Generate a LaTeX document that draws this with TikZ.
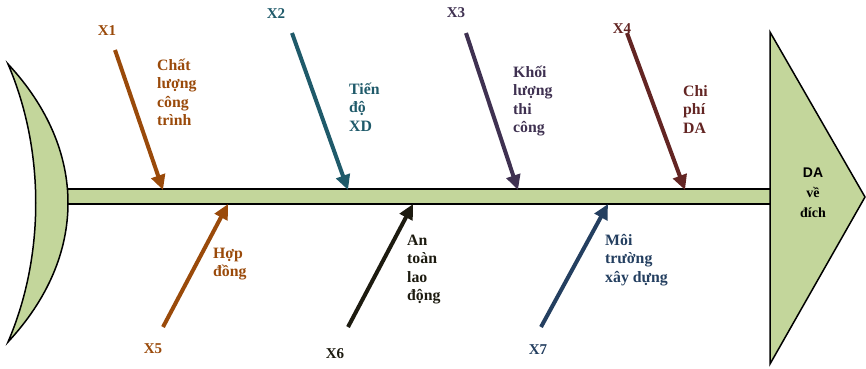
\documentclass[tikz,border=0pt]{standalone}
\usepackage{fontspec}
\setmainfont{Liberation Serif}
\newfontfamily\sansf{Liberation Sans}
\usetikzlibrary{arrows.meta}
\definecolor{fishgreen}{HTML}{C3D69B}
\definecolor{cbrown}{HTML}{9A4A0A}
\definecolor{cteal}{HTML}{1F5A6A}
\definecolor{cpurple}{HTML}{3F3151}
\definecolor{cdred}{HTML}{632523}
\definecolor{cblack}{HTML}{1D1B10}
\definecolor{cnavy}{HTML}{243F60}
\begin{document}
\begin{tikzpicture}[x=1pt,y=-1pt,
  lbl/.style={font=\bfseries\fontsize{15.8}{18.4}\selectfont, inner sep=0pt, align=left, anchor=north west},
  xl/.style={font=\bfseries\fontsize{15}{18}\selectfont, inner sep=0pt, anchor=base},
  bone/.style={line width=4pt, -{Triangle[length=15pt,width=14pt]}},
  body/.style={fill=fishgreen, draw=black, line width=1.5pt, line join=miter}]
\useasboundingbox (0,0) rectangle (866,368);

% spine
\path[body] (66,189) rectangle (771,204);
% head (crescent)
\path[body] (8,64) .. controls (88,150) and (88,256) .. (8,342)
   .. controls (45,256) and (45,150) .. cycle;
% tail triangle
\path[body] (770,32) -- (865,197) -- (770,364) -- cycle;
\node[inner sep=0pt, align=center, font=\bfseries\fontsize{14}{19.8}\selectfont, anchor=north] (goal) at (813,168)
  {{\sansf DA}\\về\\đích};

% coordinates
\coordinate (s1) at (115,50);  \coordinate (e1) at (163,190);
\coordinate (s2) at (292,33);  \coordinate (e2) at (348,190);
\coordinate (s3) at (466,33);  \coordinate (e3) at (518,190);
\coordinate (s4) at (627,33);  \coordinate (e4) at (685,190);
\coordinate (s5) at (163,327); \coordinate (e5) at (228,204);
\coordinate (s6) at (348,327); \coordinate (e6) at (413,204);
\coordinate (s7) at (541,327); \coordinate (e7) at (608,204);

\draw[bone, cbrown]  (s1) -- (e1);
\draw[bone, cteal]   (s2) -- (e2);
\draw[bone, cpurple] (s3) -- (e3);
\draw[bone, cdred]   (s4) -- (e4);
\draw[bone, cbrown]  (s5) -- (e5);
\draw[bone, cblack]  (s6) -- (e6);
\draw[bone, cnavy]   (s7) -- (e7);

% X labels
\node[xl, text=cbrown]  (x1) at (107,35) {X1};
\node[xl, text=cteal]   (x2) at (276,18) {X2};
\node[xl, text=cpurple] (x3) at (456,17) {X3};
\node[xl, text=cdred]   (x4) at (622,33) {X4};
\node[xl, text=cbrown]  (x5) at (153,353) {X5};
\node[xl, text=cblack]  (x6) at (335,358) {X6};
\node[xl, text=cnavy]   (x7) at (538,354) {X7};

% cause labels
\node[lbl, text=cbrown]  (t1) at (157,55) {\rule{0pt}{15pt}Chất\\lượng\\công\\trình};
\node[lbl, text=cteal]   (t2) at (349,79) {\rule{0pt}{15pt}Tiến\\độ\\XD};
\node[lbl, text=cpurple] (t3) at (513,62) {\rule{0pt}{15pt}Khối\\lượng\\thi\\công};
\node[lbl, text=cdred]   (t4) at (683,81) {\rule{0pt}{15pt}Chi\\phí\\DA};
\node[lbl, text=cbrown]  (t5) at (213,243) {\rule{0pt}{15pt}Hợp\\đồng};
\node[lbl, text=cblack]  (t6) at (407,230) {\rule{0pt}{15pt}An\\toàn\\lao\\động};
\node[lbl, text=cnavy]   (t7) at (605,230) {\rule{0pt}{15pt}Môi\\trường\\xây dựng};
\end{tikzpicture}
\end{document}
